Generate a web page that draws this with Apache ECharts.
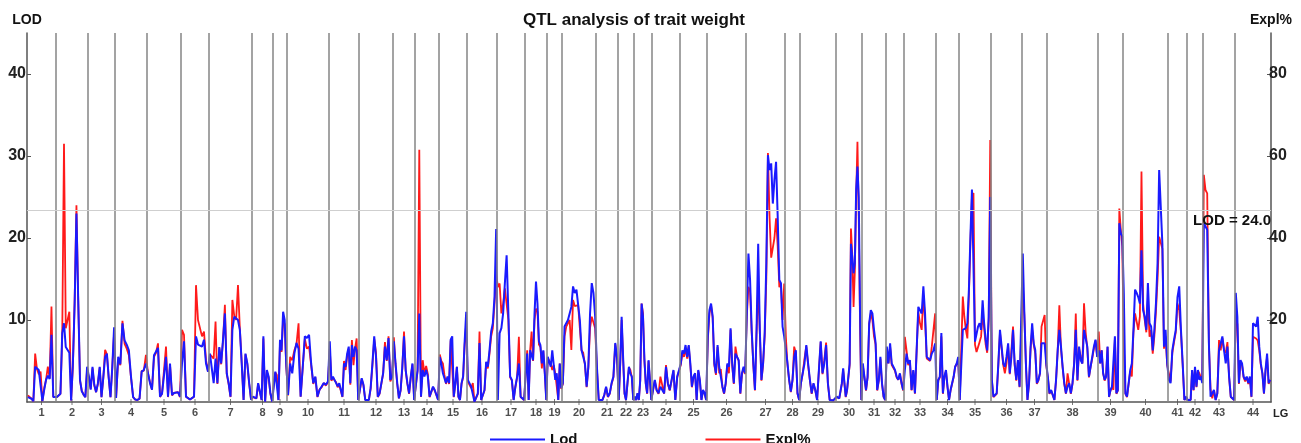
<!DOCTYPE html>
<html><head><meta charset="utf-8">
<script src="https://cdn.jsdelivr.net/npm/echarts@6/dist/echarts.min.js"></script>
<style>html,body{margin:0;padding:0;background:#fff}#c{width:1301px;height:443px}</style>
</head><body><div id="c"></div>
<script>
// Linkage group names (x tick labels)
const lgNames = ['1','2','3','4','5','6','7','8','9','10','11','12','13','14','15','16','17','18','19','20','21','22','23','24','25','26','27','28','29','30','31','32','33','34','35','36','37','38','39','40','41','42','43','44'];
// Linkage group lengths (cM, relative)
const lgLength = [29,32,27,32,34,28,43,21,14,42,30,34,22,24,28,30,28,22,15,34,22,16,18,28,27,39,39,15,36,26,24,18,32,23,32,31,25,51,25,45,19,16,32,36];
// LOD values per linkage group
const lod = [
[0.6,0.6,0.4,0.1,4.3,4.1,3.9,3.9,0.1,1.5,2.7,3.2,2.8,8.2,0.6,0.5],
[0.6,0.4,1.0,8.4,9.6,6.7,6.5,6.0,0.2,4.7,12.0,23.0,12.4,2.7,1.3,0.9,0.6,4.3],
[3.1,1.5,4.3,2.1,1.2,2.3,4.3,0.6,3.0,5.5,5.9,3.0,0.6,4.3,9.1],
[0.5,5.5,4.6,9.6,7.5,7.0,6.3,3.1,0.6,0.3,0.25,0.4,3.7,3.9,4.7],
[3.5,2.3,1.5,5.7,5.9,6.6,0.65,1.0,0.85,5.5,0.65,4.7,0.85,1.1,1.3,1.2,0.65],
[4.7,7.4,0.65,0.45,0.3,0.24,0.65,8.0,7.0,7.2,6.75,7.6,4.7,3.7],
[5.9,6.1,2.3,5.3,2.3,6.7,4.7,7.6,10.8,3.5,2.3,0.65,8.8,10.4,10.2,10.0,8.8,4.7,0.24,5.9,4.7,2.3,0.3],
[0.65,0.5,0.45,2.3,2.5,0.24,8.0,0.04,3.9,3.1,1.1,0.04],
[1.9,3.7,3.5,0.24,7.6,6.3,11.0,10.0,4.7],
[0.85,4.7,3.5,5.9,7.2,6.5,0.65,4.3,8.0,7.8,8.2,4.7,2.3,3.1,0.65,1.5,1.9,2.3,2.1,2.5],
[7.4,2.7,3.1,2.7,2.5,1.9,2.3,2.1,0.65,4.7,4.3,5.9,6.75,2.3,6.95,5.5,6.75,6.3,0.24],
[0.04,2.9,2.1,0.24,0.04,0.24,1.7,4.7,8.0,5.5,0.65,1.06,2.3,3.5,6.75,5.1,7.8,2.7,3.1],
[7.4,4.7,2.3,0.45,1.46,4.3,8.0,3.9,2.3,1.06,3.1,4.7,0.24],
[0.45,3.9,10.8,0.65,3.9,3.1,3.9,3.1,0.65,1.26,1.87,1.46,1.67,0.24],
[5.5,4.7,3.5,3.3,2.3,3.1,2.3,7.6,8.0,0.65,2.3,4.3,0.65,0.24,2.3,3.1,7.4,11.0],
[2.7,2.9,1.87,2.07,0.04,0.24,1.06,7.2,0.24,0.24,1.46,4.9,4.3,6.3,8.6,9.6,12.8,21.1],
[0.24,8.4,9.0,10.8,14.5,17.9,10.8,3.1,2.7,0.24,1.87,3.1,4.7,0.65,0.45,0.24],
[3.5,5.9,0.24,6.3,6.3,5.1,10.8,14.7,12.0,7.4,6.95,4.7,6.3,3.5,0.24],
[5.5,5.3,4.3,6.3,4.5,2.7,3.5,0.24,4.7,1.67],
[2.3,9.2,9.4,10.0,10.8,11.6,14.1,13.3,13.7,13.7,10.0,6.3,6.3,4.7,1.87,4.3,10.8,14.5,13.3,10.4],
[4.3,0.24,0.04,0.24,0.85,1.87,0.65,1.06,2.3,3.1,7.2,5.3],
[0.24,4.7,10.4,5.5,1.06,0.24,2.3,4.3,3.5,3.1,0.24],
[0.65,0.24,1.06,0.24,2.7,12.0,10.4,5.3,2.3,1.06,5.1,2.7,0.24],
[0.24,2.7,1.46,1.06,1.87,1.87,1.06,4.3,2.3,1.46,2.7,3.9,0.24,3.1,3.9],
[4.7,6.3,5.9,6.95,5.5,6.95,4.7,1.87,3.1,3.5,0.24,3.9,2.7,0.24,1.46,1.06,0.24],
[8.0,11.2,12.0,10.4,4.7,3.5,6.95,4.3,4.3,1.87,1.06,2.3,4.7,4.3,9.0,4.7,2.3,5.9,5.7,5.1,1.06,3.5,4.3,3.5],
[10.8,18.1,14.9,8.8,4.7,1.46,8.8,19.3,8.8,2.7,4.7,8.4,16.9,30.1,28.3,29.1,24.2,27.1,29.3,22.6,14.9,14.5,9.2,8.0],
[8.0,4.7,2.7,1.26,2.7,5.5,6.3,1.06,0.24],
[2.3,3.5,4.7,6.95,4.7,2.7,1.06,2.3,1.46,0.24,3.9,7.4,3.5,4.7,6.95,2.3,0.24,0.24,0.2,0.2],
[0.65,0.65,0.45,0.35,2.3,4.1,2.3,0.65,1.46,1.46,4.7,19.3,17.7,15.7,16.9,25.9,28.7,25.0,10.8,0.24],
[4.7,3.1,1.46,3.1,9.6,11.2,10.8,8.8,7.2,1.46,2.7,5.5,2.3,0.65,0.24],
[6.75,4.7,7.15,4.7,4.7,3.9,3.1,2.7,3.5,2.3,1.46],
[3.9,5.9,4.7,5.1,1.46,3.9,1.06,6.3,11.6,11.6,10.8,14.1,10.8,5.5,5.3,5.1,5.9,6.3,7.15],
[0.24,2.7,3.1,8.4,1.06,3.1,3.9,1.87,0.24,1.46,1.46,3.1,4.3,4.7,5.5],
[0.24,0.24,8.8,8.8,9.0,9.6,13.7,20.2,25.9,26.1,7.36,7.36,9.2,9.6,8.8,12.4,9.6,7.6,6.3,10.4,25.0],
[2.7,0.65,0.85,1.06,4.7,8.8,6.75,4.7,4.3,5.5,7.15,3.5,5.5,8.8,4.7,2.7,5.1,1.87,1.67],
[18.1,10.8,4.7,0.24,2.3,6.75,9.6,7.15,6.3,2.3,2.7,3.5,7.15,7.15,7.15,4.7],
[3.1,1.06,1.46,1.26,0.24,2.7,6.3,8.8,6.75,4.3,2.3,1.06,1.87,2.3,1.06,2.3,4.7,8.8,2.7,6.75,5.1,4.7,8.8,8.6,6.75,3.1,4.3,5.5,6.75,7.6,5.5],
[6.3,4.7,6.3,3.5,2.7,3.1,6.75,0.65,1.46,1.87,1.87,8.0,1.06,1.46,21.8,20.6,20.2],
[13.3,1.06,0.65,0.45,3.9,4.7,8.8,13.7,13.3,12.8,12.0,18.5,11.2,10.4,8.8,14.5,9.6,9.2,6.3,8.8,12.0,16.9,28.3,28.3,19.3,6.75,8.8,4.7],
[2.7,2.3,6.3,7.6,8.8,12.8,14.1,8.8,4.7,0.24,0.65],
[0.24,0.04,0.24,3.9,1.46,4.3,1.87,3.9,2.7,3.1,2.3],
[21.8,21.4,21.0,7.15,0.65,0.45,1.46,0.24,1.06,6.3,6.3,8.0,6.3,4.7,6.75,3.1,0.65,0.45,0.24],
[13.3,10.4,2.3,5.1,4.7,3.1,2.7,3.1,2.3,3.1,0.65,9.6,9.6,9.2,10.4,6.75,4.7,3.5,1.06,3.9,5.9,2.3,2.7]
];
// Explained variance (%) per linkage group
const expl = [
[1.6,1.4,0.8,0.2,11.8,8.0,6.8,7.4,0.2,3.4,5.4,8.6,5.8,23.3,1.2,1.0],
[1.2,0.8,2.0,16.0,63.0,18.0,20.0,22.0,0.4,8.6,25.0,48.0,25.0,5.2,2.8,1.8,1.2,8.0],
[6.0,3.2,8.2,4.0,2.4,4.4,8.4,1.2,5.8,12.7,11.6,5.8,1.2,8.4,17.0],
[1.0,10.4,9.0,19.8,14.2,13.0,11.4,6.0,1.2,0.6,0.5,0.8,7.6,7.6,11.5],
[7.0,4.8,3.0,11.0,12.0,14.3,1.2,2.0,1.6,13.5,1.2,9.2,1.6,2.2,2.6,2.4,1.2],
[17.6,16.4,1.3,0.9,0.6,0.5,1.3,28.5,20.0,19.6,16.0,17.2,10.2,7.4],
[11.6,12.0,10.6,19.6,4.4,13.2,9.2,15.0,23.7,6.8,4.4,1.2,24.9,21.0,20.0,28.5,18.0,9.6,0.5,11.6,9.2,4.4,0.6],
[1.2,1.0,0.9,4.4,4.6,0.5,15.5,0.1,7.4,6.0,2.0,0.1],
[4.6,7.2,6.6,0.5,14.6,12.2,20.0,19.0,8.8],
[1.6,11.0,10.2,12.6,14.0,19.2,1.3,8.4,15.4,13.0,13.5,9.0,4.4,6.0,1.2,3.0,3.6,4.6,4.0,4.8],
[13.0,5.2,5.8,5.6,4.8,3.6,4.2,4.0,1.2,10.0,7.8,11.2,13.0,4.2,15.1,9.0,13.0,15.5,0.5],
[0.1,5.6,4.0,0.5,0.1,0.5,3.2,9.0,15.4,12.0,1.2,2.0,4.4,7.0,14.6,10.0,16.0,5.0,6.0],
[15.8,9.0,4.4,0.9,2.8,8.2,17.2,7.6,4.4,2.0,6.0,9.2,0.5],
[0.9,7.6,61.5,1.2,10.2,7.0,8.8,6.8,1.2,2.4,3.6,2.8,3.2,0.5],
[11.6,10.0,9.4,6.6,4.4,6.0,4.4,15.0,15.4,1.2,4.4,8.6,1.2,0.5,4.4,6.0,14.0,19.2],
[5.0,5.2,3.4,4.6,0.1,0.5,2.0,17.2,0.5,0.5,2.8,9.6,8.2,11.8,16.0,18.0,24.0,31.4],
[28.0,28.9,21.6,24.0,27.7,27.7,20.0,6.0,5.2,0.5,3.6,6.0,15.9,1.2,0.9,0.5],
[7.0,12.6,0.5,12.6,17.2,10.0,20.0,22.8,22.0,14.0,13.4,8.2,12.4,7.0,0.5],
[10.7,10.4,9.4,7.8,9.0,7.0,7.0,0.5,9.4,3.2],
[4.4,16.0,18.4,19.2,20.0,12.7,24.9,23.4,23.0,23.6,18.0,12.6,12.0,9.0,3.6,8.4,18.0,20.8,21.0,18.0],
[8.0,0.5,0.1,0.5,1.6,3.6,1.2,2.0,4.4,6.0,14.1,10.4],
[0.5,9.0,20.0,10.6,2.0,0.5,4.4,8.4,7.8,6.0,0.5],
[1.2,0.5,2.0,0.5,5.2,24.0,21.6,10.2,4.4,2.0,10.0,5.2,0.5],
[0.5,5.2,2.8,2.0,6.2,5.8,2.0,9.0,4.4,2.8,5.2,7.6,0.5,6.0,7.6],
[9.0,12.0,11.0,13.0,10.6,13.6,9.0,3.6,6.0,7.0,0.5,7.6,5.2,0.5,2.8,2.0,0.5],
[15.1,21.6,23.6,20.4,9.0,6.6,13.4,7.0,8.0,3.6,2.0,4.4,9.0,7.0,17.6,9.0,4.4,13.5,11.0,10.0,2.0,6.6,8.2,6.8],
[21.0,28.1,27.0,17.0,9.0,2.8,17.0,28.1,17.0,5.2,9.0,16.0,30.0,60.7,45.0,35.2,35.0,40.0,44.8,38.0,28.0,28.9,20.0,28.9],
[16.0,9.0,5.2,2.4,5.2,13.5,12.0,2.0,0.5],
[4.4,7.0,10.6,13.6,9.0,5.2,2.0,4.4,2.8,0.5,7.6,14.6,6.8,10.2,14.5,4.4,0.5,0.5,0.4,0.4],
[1.2,1.2,0.9,0.7,4.4,8.0,4.4,1.2,2.8,2.8,9.0,42.3,36.0,23.2,32.0,50.0,63.5,45.0,18.4,0.5],
[9.0,6.0,2.8,6.0,19.0,21.6,20.0,16.0,14.0,2.8,5.2,10.6,4.4,1.2,0.5],
[13.0,9.4,13.6,9.0,9.0,7.6,6.0,5.4,6.8,4.4,2.8],
[15.9,12.6,9.0,10.0,2.8,7.6,2.0,12.4,22.0,19.2,17.6,26.0,20.0,10.6,10.4,10.0,13.5,17.6,21.6],
[0.5,5.2,6.0,16.0,2.0,6.0,7.6,3.6,0.5,2.8,2.8,6.0,8.6,9.0,10.0],
[0.5,0.5,25.7,20.8,17.6,15.5,26.0,39.0,50.0,51.0,14.0,12.2,12.6,14.6,16.0,21.6,18.0,14.0,12.0,20.0,63.9],
[5.4,1.2,1.6,2.0,9.0,17.0,13.0,9.0,7.0,9.4,13.6,6.8,12.6,18.4,9.0,5.2,10.2,3.6,3.2],
[28.9,21.0,9.0,0.5,4.4,13.0,17.6,14.0,11.8,4.4,5.2,7.0,18.4,18.8,21.2,9.0],
[6.0,2.0,2.8,2.4,0.5,5.2,12.6,23.6,13.0,8.4,4.4,2.0,7.0,4.4,2.0,4.4,9.4,21.6,5.2,13.0,11.0,9.4,24.1,17.0,13.0,6.0,8.6,10.6,13.0,15.0,11.0],
[17.2,9.4,12.6,7.0,5.2,6.2,13.4,1.2,2.8,3.6,3.0,15.6,2.0,2.8,47.2,42.0,38.0],
[14.3,2.0,1.2,0.9,7.6,6.2,17.0,21.6,22.0,17.6,20.8,56.2,24.0,20.0,17.0,25.0,15.9,17.6,11.8,16.0,22.0,30.0,40.3,40.0,37.4,13.0,16.0,9.0],
[7.0,5.0,12.0,14.6,17.0,24.0,22.4,17.0,9.0,0.5,1.2],
[0.5,0.1,0.5,7.6,2.8,8.4,3.6,7.6,7.0,6.0,5.4],
[55.4,51.7,50.9,14.0,3.0,0.9,2.8,0.5,2.0,15.1,12.6,15.6,12.6,12.0,14.6,6.0,1.2,0.9,0.5],
[21.2,19.0,4.4,10.0,9.0,6.0,5.0,6.0,4.4,6.0,1.2,15.9,16.0,15.5,15.0,12.6,9.0,7.0,2.0,7.6,11.0,4.4,5.4]
];
const lodThreshold = 23.4;
const thresholdLabel = 'LOD = 24.0';
const lodTicks = [10,20,30,40];
const explTicks = [20,40,60,80];

// build series data from the arrays
const lodData = [], explData = [], mids = [], bounds = [];
let start = 0;
lgLength.forEach((len, i) => {
  const a = lod[i], b = expl[i];
  a.forEach((v, k) => lodData.push([start + (k + 0.5) * len / a.length, v]));
  b.forEach((v, k) => explData.push([start + (k + 0.5) * len / b.length, v]));
  mids.push([start + len / 2, 0, lgNames[i]]);
  start += len;
  if (i < lgLength.length - 1) bounds.push(start);
});
const total = start;

const FONT = "'Liberation Sans Narrow','Liberation Sans',Arial,sans-serif";
const chart = echarts.init(document.getElementById('c'), null, {renderer: 'canvas'});
chart.setOption({
  animation: false,
  backgroundColor: '#fff',
  textStyle: {fontFamily: FONT},
  title: {
    text: 'QTL analysis of trait weight', left: 518, top: 7,
    textStyle: {fontFamily: FONT, fontWeight: 'bold', fontSize: 17, color: '#111'}
  },
  legend: {
    left: 485, top: 427, itemWidth: 55, itemHeight: 2, itemGap: 128,
    icon: 'rect',
    data: ['Lod', 'Expl%'],
    textStyle: {fontFamily: FONT, fontWeight: 'bold', fontSize: 15, color: '#111'}
  },
  grid: {left: 27, right: 30, top: 33, bottom: 41},
  xAxis: {
    type: 'value', min: 0, max: total,
    name: 'LG', nameLocation: 'end', nameGap: 2,
    nameTextStyle: {fontFamily: FONT, fontWeight: 'bold', fontSize: 11, color: '#222', verticalAlign: 'top', padding: [6, 0, 0, 0]},
    axisLine: {show: true, lineStyle: {color: '#555', width: 1.5}},
    axisTick: {show: false}, axisLabel: {show: false}, splitLine: {show: false}
  },
  yAxis: [{
    type: 'value', min: 0, max: 45, position: 'left',
    name: 'LOD', nameLocation: 'end', nameGap: 6,
    nameTextStyle: {fontFamily: FONT, fontWeight: 'bold', fontSize: 14, color: '#111', align: 'center'},
    axisLine: {show: true, lineStyle: {color: '#555', width: 1.5}},
    axisTick: {show: true, inside: true, length: 4, customValues: lodTicks, lineStyle: {color: '#555'}},
    axisLabel: {customValues: lodTicks, margin: 1, fontFamily: FONT, fontWeight: 'bold', fontSize: 16, color: '#222'},
    splitLine: {show: false}
  }, {
    type: 'value', min: 0, max: 90, position: 'right',
    name: 'Expl%', nameLocation: 'end', nameGap: 6,
    nameTextStyle: {fontFamily: FONT, fontWeight: 'bold', fontSize: 14, color: '#111', align: 'center'},
    axisLine: {show: true, lineStyle: {color: '#555', width: 1.5}},
    axisTick: {show: true, inside: true, length: 4, customValues: explTicks, lineStyle: {color: '#555'}},
    axisLabel: {customValues: explTicks, margin: -2, fontFamily: FONT, fontWeight: 'bold', fontSize: 16, color: '#222'},
    splitLine: {show: false}
  }],
  series: [{
    name: 'lg', type: 'scatter', z: 1, silent: true, clip: false,
    data: mids, symbol: 'rect', symbolSize: [1, 6], itemStyle: {color: '#555'},
    label: {show: true, position: 'bottom', distance: 2, formatter: p => p.data[2],
      fontFamily: FONT, fontWeight: 'bold', fontSize: 11, color: '#222'},
    markLine: {
      silent: true, symbol: 'none', animation: false,
      data: bounds.map(b => ({xAxis: b, lineStyle: {color: '#858585', width: 1.5, type: 'solid'}, label: {show: false}}))
        .concat([{yAxis: lodThreshold, lineStyle: {color: '#cfcfcf', width: 1, type: 'solid'},
          label: {show: true, position: 'insideEndBottom', formatter: thresholdLabel, distance: [0, 3],
            fontFamily: FONT, fontWeight: 'bold', fontSize: 15, color: '#111'}}])
    }
  }, {
    name: 'Expl%', type: 'line', yAxisIndex: 1, z: 2, data: explData,
    symbol: 'none', showSymbol: false,
    lineStyle: {color: '#ff1a1a', width: 1.8}, itemStyle: {color: '#ff1a1a'}
  }, {
    name: 'Lod', type: 'line', yAxisIndex: 0, z: 3, data: lodData,
    symbol: 'none', showSymbol: false,
    lineStyle: {color: '#1a1aff', width: 2}, itemStyle: {color: '#1a1aff'}
  }]
});
</script></body></html>
